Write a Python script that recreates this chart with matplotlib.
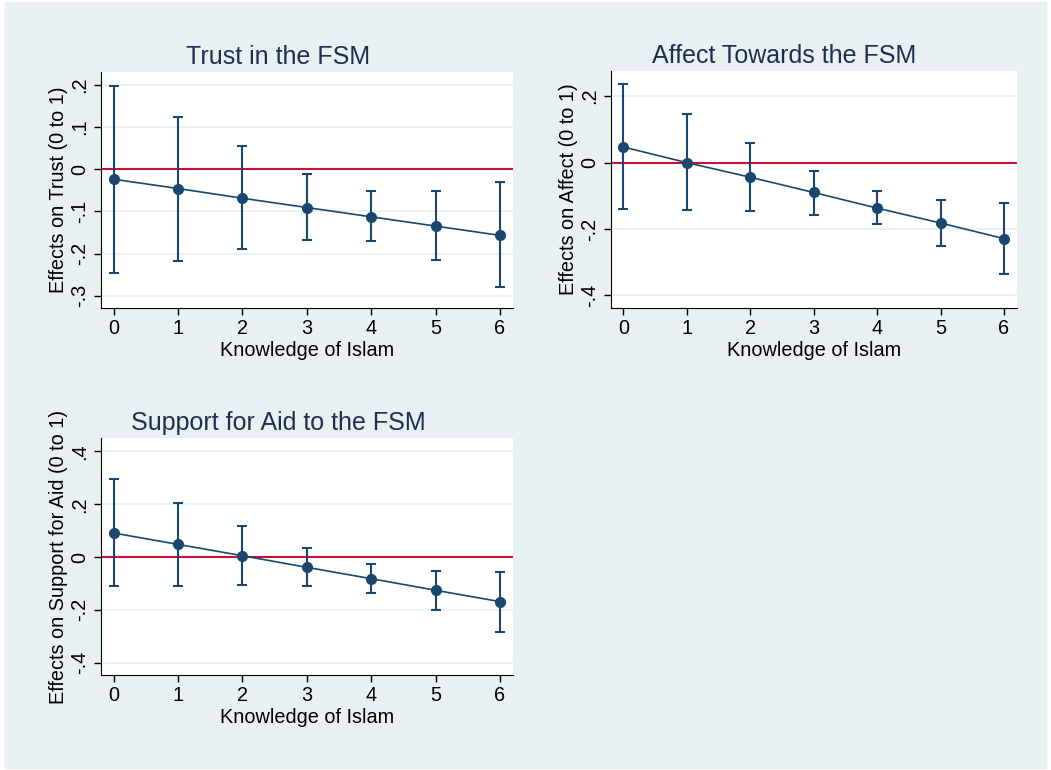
import numpy as np
import matplotlib
matplotlib.use("Agg")
import matplotlib.pyplot as plt
from matplotlib.patches import Rectangle

plt.rcParams['font.family'] = ['Liberation Sans', 'DejaVu Sans']

NAVY = '#1a476f'
TITLE = '#1e2f52'
RED = '#c8103a'
BG = '#e8f0f2'
GRID = '#e8f0f2'

knowledge = [0, 1, 2, 3, 4, 5, 6]

# trust in the FSM
trust_est = [-0.024, -0.046, -0.069, -0.091, -0.113, -0.135, -0.157]
trust_lo = [-0.246, -0.217, -0.189, -0.169, -0.171, -0.215, -0.280]
trust_hi = [0.197, 0.124, 0.054, -0.011, -0.053, -0.053, -0.031]

# affect towards the FSM
affect_est = [0.047, 0.000, -0.044, -0.090, -0.137, -0.182, -0.229]
affect_lo = [-0.141, -0.142, -0.147, -0.157, -0.186, -0.252, -0.335]
affect_hi = [0.236, 0.146, 0.058, -0.024, -0.086, -0.113, -0.121]

# support for aid
aid_est = [0.091, 0.048, 0.005, -0.039, -0.082, -0.126, -0.169]
aid_lo = [-0.111, -0.109, -0.106, -0.111, -0.136, -0.201, -0.284]
aid_hi = [0.294, 0.203, 0.116, 0.034, -0.028, -0.052, -0.056]

trust_ticks = [-0.3, -0.2, -0.1, 0, 0.1, 0.2]
trust_labels = ['-.3', '-.2', '-.1', '0', '.1', '.2']
affect_ticks = [-0.4, -0.2, 0, 0.2]
affect_labels = ['-.4', '-.2', '0', '.2']
aid_ticks = [-0.4, -0.2, 0, 0.2, 0.4]
aid_labels = ['-.4', '-.2', '0', '.2', '.4']


def panel(ax, est, lo, hi, title, ylabel, yticks, ylabels, ylim, title_x):
    est = np.array(est)
    yerr = [est - np.array(lo), np.array(hi) - est]
    for t in yticks:
        ax.axhline(t, color=GRID, lw=1.2, zorder=1)
    ax.axhline(0, color=RED, lw=1.5, zorder=2)
    ax.errorbar(knowledge, est, yerr=yerr, fmt='none', ecolor=NAVY,
                elinewidth=1.5, capsize=3.6, capthick=1.5, zorder=3)
    ax.plot(knowledge, est, color=NAVY, lw=1.2, marker='o', ms=7, zorder=4)
    ax.set_xlim(-0.2, 6.2)
    ax.set_ylim(*ylim)
    ax.set_xticks(knowledge)
    ax.set_yticks(yticks)
    ax.set_yticklabels(ylabels, rotation=90, va='center')
    ax.tick_params(direction='out', length=5, width=1, labelsize=14.3, pad=3)
    ax.set_title(title, fontsize=18, color=TITLE, pad=6, x=title_x)
    ax.set_xlabel('Knowledge of Islam', fontsize=14.3, labelpad=2)
    ax.set_ylabel(ylabel, fontsize=14.3, labelpad=2)
    ax.spines['top'].set_visible(False)
    ax.spines['right'].set_visible(False)
    ax.set_facecolor('white')


fig = plt.figure(figsize=(10.51, 7.70), dpi=100)
fig.patch.set_facecolor('white')
fig.patches.append(Rectangle((5 / 1051, 2 / 770), 1041 / 1051, 766 / 770,
                             transform=fig.transFigure, color=BG, zorder=-10))

ax1 = fig.add_axes([0.0958, 0.6, 0.3922, 0.3065])
ax2 = fig.add_axes([0.581, 0.6, 0.3864, 0.3078])
ax3 = fig.add_axes([0.0958, 0.1234, 0.3922, 0.3074])

panel(ax1, trust_est, trust_lo, trust_hi, 'Trust in the FSM',
      'Effects on Trust (0 to 1)', trust_ticks, trust_labels, (-0.329, 0.23), 0.43)
panel(ax2, affect_est, affect_lo, affect_hi, 'Affect Towards the FSM',
      'Effects on Affect (0 to 1)', affect_ticks, affect_labels, (-0.438, 0.276), 0.428)
panel(ax3, aid_est, aid_lo, aid_hi, 'Support for Aid to the FSM',
      'Effects on Support for Aid (0 to 1)', aid_ticks, aid_labels, (-0.447, 0.45), 0.43)

fig.savefig('out.png', dpi=100)
